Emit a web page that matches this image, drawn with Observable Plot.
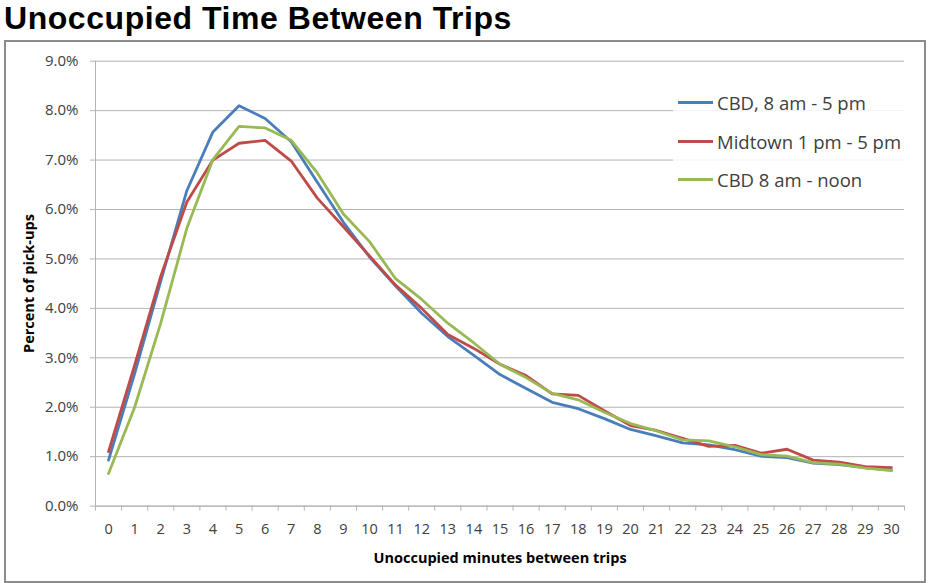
<!DOCTYPE html>
<html>
<head>
<meta charset="utf-8">
<script src="https://cdn.jsdelivr.net/npm/d3@7"></script>
<script src="https://cdn.jsdelivr.net/npm/@observablehq/plot@0.6"></script>
<style>
  html, body { margin: 0; padding: 0; background: #fff; }
  body { font-family: "Open Sans", sans-serif; width: 929px; height: 583px; position: relative; overflow: hidden; }
  #title { position: absolute; left: 4px; top: 0px; font-family: "Liberation Sans", Arial, sans-serif; font-size: 32px; line-height: 36px; font-weight: 700; color: #000; white-space: nowrap; letter-spacing: 0.55px; }
  #box { position: absolute; left: 4px; top: 40px; width: 918px; height: 539px; border: 2px solid #8c8c8c; background: #fff; }
  #chart { position: absolute; left: 0; top: 0; }
  #legend { position: absolute; left: 667px; top: 42px; width: 240px; height: 112px; background: rgba(255,255,255,0.85); }
  .lrow { position: absolute; left: 0; height: 26px; display: flex; align-items: center; font-size: 18.5px; color: #404040; white-space: nowrap; }
  .lrow span.sw { display: inline-block; width: 35px; height: 3px; margin-left: 5px; margin-right: 4px; }
  .axt { position: absolute; font-weight: 700; font-size: 14.5px; color: #000; white-space: nowrap; }
</style>
</head>
<body>
<div id="title">Unoccupied Time Between Trips</div>
<div id="box">
  <div id="chart"></div>
  <div id="legend"></div>
  <div class="axt" id="xt">Unoccupied minutes between trips</div>
  <div class="axt" id="yt">Percent of pick-ups</div>
</div>
<script>
// ---- data (percent of pick-ups) ----
const minutes = [0,1,2,3,4,5,6,7,8,9,10,11,12,13,14,15,16,17,18,19,20,21,22,23,24,25,26,27,28,29,30];
const seriesNames = ["CBD, 8 am - 5 pm", "Midtown 1 pm - 5 pm", "CBD 8 am - noon"];
const seriesColors = ["#4a7ebb", "#be4b48", "#98b954"];
const cbdDay = [0.93,2.68,4.55,6.38,7.57,8.10,7.84,7.37,6.55,5.74,5.04,4.45,3.90,3.43,3.05,2.66,2.38,2.10,1.97,1.77,1.55,1.42,1.28,1.24,1.14,1.01,0.98,0.87,0.84,0.78,0.73];
const midtown = [1.10,2.85,4.65,6.15,7.00,7.34,7.40,6.98,6.23,5.65,5.06,4.47,4.00,3.47,3.19,2.87,2.64,2.27,2.24,1.93,1.63,1.53,1.37,1.21,1.23,1.07,1.15,0.93,0.89,0.80,0.78];
const cbdMorning = [0.66,2.00,3.70,5.62,7.01,7.68,7.65,7.40,6.74,5.91,5.35,4.60,4.18,3.70,3.30,2.87,2.60,2.28,2.15,1.90,1.67,1.52,1.34,1.32,1.20,1.04,1.01,0.88,0.85,0.77,0.72];
const yTicks = [0,1,2,3,4,5,6,7,8,9];
const xTitle = "Unoccupied minutes between trips";
const yTitle = "Percent of pick-ups";

const seriesValues = [cbdDay, midtown, cbdMorning];
const rows = [];
seriesValues.forEach((vals, s) => vals.forEach((v, i) => rows.push({minute: minutes[i], pct: v, series: seriesNames[s]})));
const boundaries = minutes.map(m => m - 0.5).concat([minutes[minutes.length - 1] + 0.5]);

const W = 918, H = 539;
const chart = Plot.plot({
  width: W, height: H,
  marginLeft: 89, marginRight: 20, marginTop: 18.7, marginBottom: 75.4,
  x: {domain: [boundaries[0], boundaries[boundaries.length - 1]]},
  y: {domain: [yTicks[0], yTicks[yTicks.length - 1]]},
  color: {domain: seriesNames, range: seriesColors},
  style: {fontFamily: "'Open Sans', sans-serif", fontSize: "14.5px", color: "#404040", background: "transparent", overflow: "visible"},
  marks: [
    Plot.gridY(yTicks, {stroke: "#b3b3b3", strokeOpacity: 1, strokeWidth: 1}),
    Plot.ruleX([boundaries[0]], {stroke: "#b3b3b3", strokeWidth: 1}),
    Plot.ruleY([yTicks[0]], {stroke: "#b3b3b3", strokeWidth: 1}),
    Plot.axisY(yTicks, {tickSize: 5, tickPadding: 12, fontSize: 15, tickFormat: d => d.toFixed(1) + "%", stroke: "#b3b3b3", fill: "#404040", label: null}),
    Plot.axisX(boundaries, {tickSize: 5, tickFormat: () => "", stroke: "#b3b3b3", label: null}),
    Plot.axisX(minutes, {tickSize: 0, tickPadding: 18, fontSize: 14.5, tickFormat: d => String(d), fill: "#404040", label: null}),
    Plot.line(rows, {x: "minute", y: "pct", stroke: "series", strokeWidth: 2.8, strokeLinejoin: "round", strokeLinecap: "round"})
  ]
});
document.getElementById("chart").appendChild(chart);

// legend
const legend = document.getElementById("legend");
const rowTops = [18.7 - 13, 57.7 - 13, 95.3 - 13];
seriesNames.forEach((name, i) => {
  const r = document.createElement("div");
  r.className = "lrow";
  r.style.top = rowTops[i] + "px";
  const sw = document.createElement("span");
  sw.className = "sw";
  sw.style.background = seriesColors[i];
  r.appendChild(sw);
  r.appendChild(document.createTextNode(name));
  legend.appendChild(r);
});

// axis titles
const xt = document.getElementById("xt");
xt.textContent = xTitle;
xt.style.left = (494 - xt.offsetWidth / 2) + "px";
xt.style.top = (515 - xt.offsetHeight / 2) + "px";
const yt = document.getElementById("yt");
yt.textContent = yTitle;
yt.style.left = (22 - yt.offsetWidth / 2) + "px";
yt.style.top = (241 - yt.offsetHeight / 2) + "px";
yt.style.transform = "rotate(-90deg)";
</script>
</body>
</html>
